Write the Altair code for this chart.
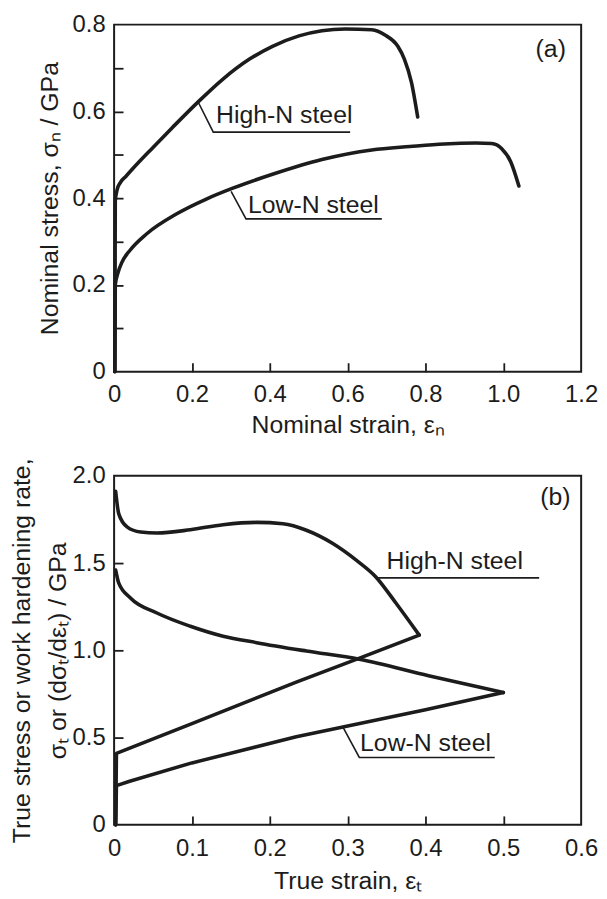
import altair as alt
import pandas as pd

# ---------------- panel (a): nominal stress vs nominal strain ----------------
a_high_x = [0.002, 0.003, 0.008, 0.016, 0.030, 0.050, 0.100, 0.150, 0.216, 0.279, 0.347, 0.407, 0.475, 0.534, 0.594, 0.662, 0.696, 0.729, 0.746, 0.764, 0.780]
a_high_y = [0.000, 0.394, 0.420, 0.436, 0.450, 0.470, 0.517, 0.563, 0.622, 0.674, 0.720, 0.750, 0.774, 0.786, 0.790, 0.788, 0.776, 0.750, 0.720, 0.667, 0.587]
a_low_x = [0.002, 0.003, 0.010, 0.020, 0.041, 0.084, 0.161, 0.237, 0.305, 0.407, 0.534, 0.662, 0.760, 0.848, 0.930, 0.970, 0.996, 1.019, 1.040]
a_low_y = [0.000, 0.200, 0.228, 0.252, 0.280, 0.318, 0.364, 0.398, 0.423, 0.455, 0.489, 0.511, 0.519, 0.525, 0.527, 0.526, 0.514, 0.484, 0.428]

a_x_labels = [0, 0.2, 0.4, 0.6, 0.8, 1.0, 1.2]
a_y_labels = [0, 0.2, 0.4, 0.6, 0.8]
a_x_ticks = [0.2, 0.4, 0.6, 0.8, 1.0]
a_y_ticks = [0.1, 0.2, 0.3, 0.4, 0.5, 0.6, 0.7]

a_lead_high_x = [0.2166, 0.2548, 0.6064]
a_lead_high_y = [0.6205, 0.5523, 0.5523]
a_lead_low_x = [0.3006, 0.3389, 0.6879]
a_lead_low_y = [0.4159, 0.3523, 0.3523]
a_text = ["High-N steel", "Low-N steel", "(a)"]
a_text_x = [0.262, 0.344, 1.083]
a_text_y = [0.573, 0.366, 0.725]

# ---------------- panel (b): true stress (linear) and work hardening rate (curved) ----------------
b_high_ts_x = [0.002, 0.003, 0.100, 0.234, 0.317, 0.392]
b_high_ts_y = [0.000, 0.410, 0.580, 0.818, 0.958, 1.087]
b_high_wh_x = [0.002, 0.006, 0.017, 0.034, 0.055, 0.098, 0.140, 0.183, 0.217, 0.247, 0.281, 0.311, 0.336, 0.362, 0.392]
b_high_wh_y = [1.911, 1.782, 1.706, 1.678, 1.672, 1.691, 1.720, 1.733, 1.725, 1.688, 1.612, 1.517, 1.422, 1.271, 1.087]
b_low_ts_x = [0.002, 0.003, 0.020, 0.100, 0.234, 0.294, 0.400, 0.500]
b_low_ts_y = [0.000, 0.225, 0.250, 0.355, 0.505, 0.560, 0.660, 0.758]
b_low_wh_x = [0.002, 0.006, 0.021, 0.055, 0.098, 0.140, 0.183, 0.247, 0.315, 0.404, 0.500]
b_low_wh_y = [1.460, 1.385, 1.300, 1.214, 1.138, 1.081, 1.044, 0.996, 0.949, 0.855, 0.758]

b_x_labels = [0, 0.1, 0.2, 0.3, 0.4, 0.5, 0.6]
b_y_labels = [0, 0.5, 1.0, 1.5, 2.0]
b_x_ticks = [0.1, 0.2, 0.3, 0.4, 0.5]
b_y_ticks = [0.5, 1.0, 1.5]

b_lead_high_x = [0.339, 0.546]
b_lead_high_y = [1.415, 1.415]
b_lead_low_x = [0.294, 0.315, 0.489]
b_lead_low_y = [0.560, 0.386, 0.386]
b_text = ["High-N steel", "Low-N steel", "(b)"]
b_text_x = [0.350, 0.316, 0.5475]
b_text_y = [1.466, 0.426, 1.830]

FONT = "Liberation Sans"
LFS = 24   # tick labels
TFS = 25   # titles and annotations
INK = "#1c1c1c"
W = 471


def lines_df(named):
    rows = []
    for name, xs, ys in named:
        for i, (x, y) in enumerate(zip(xs, ys)):
            rows.append({"s": name, "x": x, "y": y, "i": i})
    return pd.DataFrame(rows)


label_expr = "datum.value == 0 ? '0' : format(datum.value, '.1f')"


def panel(H, smooth, straight, leaders, texts, tx, ty, xdom, ydom, xlab, ylab, xtk, ytk,
          xtitle, ytitle, xlabpad, xtitlepad, ytitlepad, ylh):
    xs = alt.Scale(domain=xdom, nice=False, zero=False)
    ys = alt.Scale(domain=ydom, nice=False, zero=False)
    sdf = lines_df(smooth)
    ldf = lines_df(leaders)
    tdf = pd.DataFrame({"t": texts, "x": tx, "y": ty})

    main = alt.Chart(sdf).mark_line(
        strokeWidth=3.6, color=INK, interpolate="monotone", strokeCap="round", strokeJoin="round"
    ).encode(
        x=alt.X("x:Q", scale=xs, axis=alt.Axis(
            values=xlab, labelExpr=label_expr, title=xtitle, ticks=False, tickSize=0,
            domain=False, grid=False, labelFlush=False, labelOverlap=False,
            labelPadding=xlabpad, titlePadding=xtitlepad,
            labelFont=FONT, titleFont=FONT, labelFontSize=LFS, titleFontSize=TFS,
            labelColor=INK, titleColor=INK, titleFontWeight="normal")),
        y=alt.Y("y:Q", scale=ys, axis=alt.Axis(
            values=ylab, labelExpr=label_expr, title=ytitle, ticks=False, tickSize=0,
            domain=False, grid=False, labelOverlap=False, labelPadding=9,
            titlePadding=ytitlepad, titleLineHeight=ylh,
            labelFont=FONT, titleFont=FONT, labelFontSize=LFS, titleFontSize=TFS,
            labelColor=INK, titleColor=INK, titleFontWeight="normal")),
        detail="s:N",
        order="i:Q",
    )
    layers = [main]
    if straight:
        stdf = lines_df(straight)
        layers.append(alt.Chart(stdf).mark_line(
            strokeWidth=3.6, color=INK, strokeCap="round", strokeJoin="round"
        ).encode(
            x=alt.X("x:Q", scale=xs, axis=None),
            y=alt.Y("y:Q", scale=ys, axis=None),
            detail="s:N",
            order="i:Q",
        ))
    ticks = alt.Chart(sdf).mark_point(opacity=0, size=1).encode(
        x=alt.X("x:Q", scale=xs, axis=alt.Axis(
            orient="top", offset=-H, values=xtk, labels=False, domain=False, grid=False,
            ticks=True, tickSize=9, tickWidth=1.8, tickColor=INK, title=None)),
        y=alt.Y("y:Q", scale=ys, axis=alt.Axis(
            orient="right", offset=-W, values=ytk, labels=False, domain=False, grid=False,
            ticks=True, tickSize=9, tickWidth=1.8, tickColor=INK, title=None)),
    )
    lead = alt.Chart(ldf).mark_line(strokeWidth=1.6, color=INK).encode(
        x=alt.X("x:Q", scale=xs, axis=None),
        y=alt.Y("y:Q", scale=ys, axis=None),
        detail="s:N",
        order="i:Q",
    )
    txt = alt.Chart(tdf).mark_text(
        align="left", baseline="alphabetic", font=FONT, fontSize=TFS, color=INK
    ).encode(
        x=alt.X("x:Q", scale=xs, axis=None),
        y=alt.Y("y:Q", scale=ys, axis=None),
        text="t:N",
    )
    layers += [lead, txt, ticks]
    return alt.layer(*layers).resolve_axis(
        x="independent", y="independent"
    ).properties(width=W, height=H)


top = panel(
    350,
    [("high", a_high_x, a_high_y), ("low", a_low_x, a_low_y)], [],
    [("high", a_lead_high_x, a_lead_high_y), ("low", a_lead_low_x, a_lead_low_y)],
    a_text, a_text_x, a_text_y, [0, 1.2], [0, 0.8], a_x_labels, a_y_labels,
    a_x_ticks, a_y_ticks, "Nominal strain, εₙ", "Nominal stress, σₙ / GPa",
    11, 6, 10, 24,
)
bottom = panel(
    352,
    [("hwh", b_high_wh_x, b_high_wh_y), ("lwh", b_low_wh_x, b_low_wh_y)],
    [("hts", b_high_ts_x, b_high_ts_y), ("lts", b_low_ts_x, b_low_ts_y)],
    [("high", b_lead_high_x, b_lead_high_y), ("low", b_lead_low_x, b_lead_low_y)],
    b_text, b_text_x, b_text_y, [0, 0.6], [0, 2.0], b_x_labels, b_y_labels,
    b_x_ticks, b_y_ticks, "True strain, εₜ",
    ["True stress or work hardening rate,", "σₜ or (dσₜ/dεₜ) / GPa"],
    12, 8, 2, 36,
)

chart = alt.vconcat(top, bottom, spacing=105, bounds="flush").properties(
    padding={"left": 0, "top": 0, "right": 0, "bottom": 0},
    background="white",
).configure_view(
    stroke=INK, strokeWidth=2
)

chart.save("out.html", embed_options={"renderer": "svg", "actions": False})
